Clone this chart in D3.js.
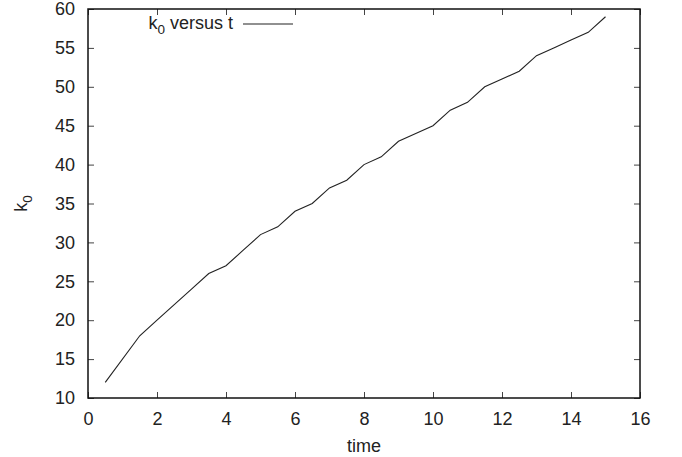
<!DOCTYPE html>
<meta charset="utf-8">
<script src="https://d3js.org/d3.v7.min.js"></script>
<style>
  body { margin: 0; background: #fff; }
  text { font-family: "Liberation Sans", Arial, sans-serif; fill: #222; }
</style>
<div id="my_dataviz"></div>
<script>
// data
var times = [0.5, 1.5, 2, 2.5, 3, 3.5, 4, 4.5, 5, 5.5, 6, 6.5, 7, 7.5, 8, 8.5, 9, 9.5, 10,
             10.5, 11, 11.5, 12, 12.5, 13, 13.5, 14, 14.5, 15];
var k0 = [12, 18, 20, 22, 24, 26, 27, 29, 31, 32, 34, 35, 37, 38, 40, 41, 43, 44, 45,
          47, 48, 50, 51, 52, 54, 55, 56, 57, 59];
var xTicks = [0, 2, 4, 6, 8, 10, 12, 14, 16];
var yTicks = [10, 15, 20, 25, 30, 35, 40, 45, 50, 55, 60];

var margin = {top: 9, right: 42, bottom: 59, left: 88},
    width = 682 - margin.left - margin.right,
    height = 457 - margin.top - margin.bottom;

var fs = "18px";

var svg = d3.select("#my_dataviz")
  .append("svg")
    .attr("width", 682)
    .attr("height", 457)
  .append("g")
    .attr("transform", "translate(" + margin.left + "," + margin.top + ")");

var x = d3.scaleLinear().domain([0, 16]).range([0, width]);
var y = d3.scaleLinear().domain([10, 60]).range([height, 0]);

function styleAxis(g, showLabels) {
  g.select(".domain").remove();
  g.selectAll(".tick line").attr("stroke", "#444").attr("stroke-width", 1);
  g.selectAll("text").style("font-size", fs).attr("fill", "#222");
  if (!showLabels) g.selectAll("text").remove();
}

// bottom + top
svg.append("g")
  .attr("transform", "translate(0," + height + ")")
  .call(d3.axisBottom(x).tickValues(xTicks).tickSize(-6).tickPadding(14).tickFormat(d3.format("d")))
  .call(function(g) { styleAxis(g, true); });
svg.append("g")
  .call(d3.axisTop(x).tickValues(xTicks).tickSize(-6))
  .call(function(g) { styleAxis(g, false); });

// left + right
svg.append("g")
  .call(d3.axisLeft(y).tickValues(yTicks).tickSize(-6).tickPadding(13).tickFormat(d3.format("d")))
  .call(function(g) { styleAxis(g, true); });
svg.append("g")
  .attr("transform", "translate(" + width + ",0)")
  .call(d3.axisRight(y).tickValues(yTicks).tickSize(-6))
  .call(function(g) { styleAxis(g, false); });

// frame
svg.append("rect")
  .attr("width", width)
  .attr("height", height)
  .attr("fill", "none")
  .attr("stroke", "#111")
  .attr("stroke-width", 1.5);

// the line
var line = d3.line()
  .x(function(d, i) { return x(times[i]); })
  .y(function(d) { return y(d); });

svg.append("path")
  .datum(k0)
  .attr("d", line)
  .attr("fill", "none")
  .attr("stroke", "#222")
  .attr("stroke-width", 1.1);

// axis labels
svg.append("text")
  .attr("x", width / 2)
  .attr("y", height + 54)
  .attr("text-anchor", "middle")
  .style("font-size", fs)
  .text("time");

var yl = svg.append("text")
  .attr("transform", "translate(" + (-61) + "," + (height / 2) + ") rotate(-90)")
  .attr("text-anchor", "middle")
  .style("font-size", fs);
yl.append("tspan").text("k");
yl.append("tspan").attr("dy", 5).style("font-size", "13.5px").text("0");

// legend
var lg = svg.append("text")
  .attr("x", 233 - margin.left)
  .attr("y", 29 - margin.top)
  .attr("text-anchor", "end")
  .style("font-size", fs);
lg.append("tspan").text("k");
lg.append("tspan").attr("dy", 5).style("font-size", "13.5px").text("0");
lg.append("tspan").attr("dy", -5).text(" versus t");

svg.append("line")
  .attr("x1", 243 - margin.left)
  .attr("x2", 293 - margin.left)
  .attr("y1", 24 - margin.top)
  .attr("y2", 24 - margin.top)
  .attr("stroke", "#222")
  .attr("stroke-width", 1.1);
</script>
